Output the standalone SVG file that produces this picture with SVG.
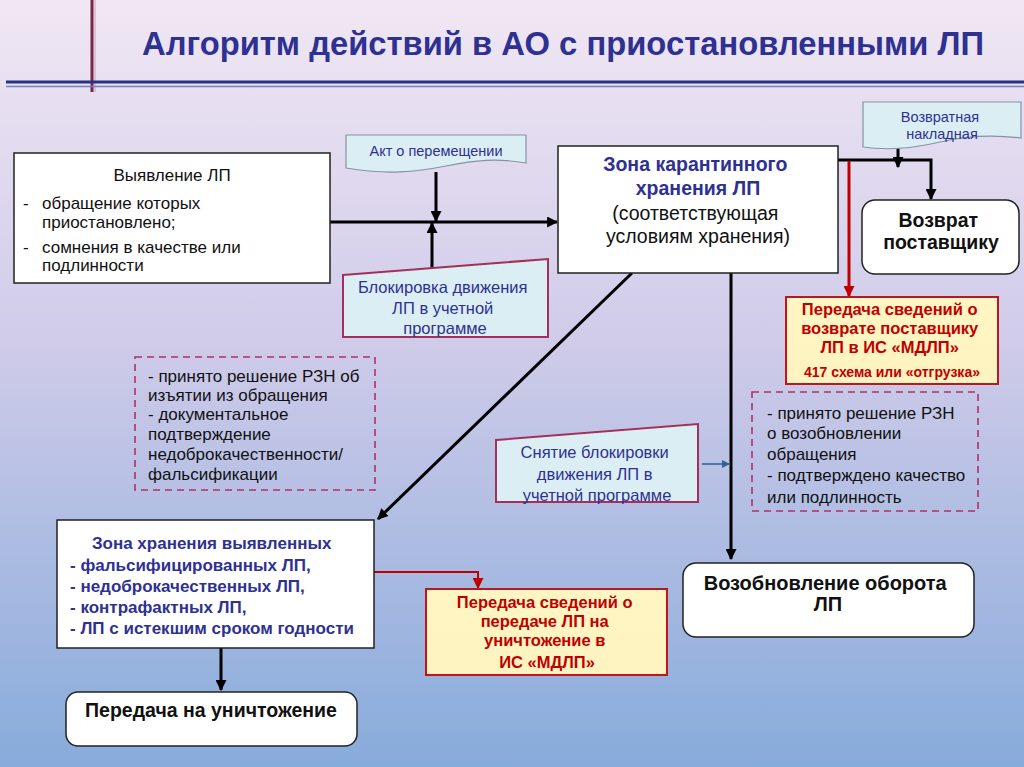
<svg xmlns="http://www.w3.org/2000/svg" width="1024" height="767" viewBox="0 0 1024 767">
<defs>
<linearGradient id="bg" x1="0" y1="0" x2="0" y2="1">
<stop offset="0" stop-color="#f1e7f4"/>
<stop offset="0.45" stop-color="#cfcbe9"/>
<stop offset="1" stop-color="#87abdb"/>
</linearGradient>
<linearGradient id="yel" x1="0" y1="0" x2="0" y2="1">
<stop offset="0" stop-color="#fff6c4"/>
<stop offset="1" stop-color="#fdf3c0"/>
</linearGradient>
<marker id="ab" viewBox="0 0 10 10" refX="9" refY="5" markerWidth="11" markerHeight="11" markerUnits="userSpaceOnUse" orient="auto"><path d="M0,0 L10,5 L0,10 z" fill="#000"/></marker>
<marker id="ar" viewBox="0 0 10 10" refX="9" refY="5" markerWidth="11" markerHeight="11" markerUnits="userSpaceOnUse" orient="auto"><path d="M0,0 L10,5 L0,10 z" fill="#c00000"/></marker>
<marker id="abl" viewBox="0 0 10 10" refX="9" refY="5" markerWidth="8" markerHeight="8" markerUnits="userSpaceOnUse" orient="auto"><path d="M0,0 L10,5 L0,10 z" fill="#2f6491"/></marker>
</defs>
<style>
.t{font-family:"Liberation Sans",Arial,sans-serif}
.b{font-weight:bold}
.box{fill:#fff;stroke:#222;stroke-width:1.5}
.doc{fill:#dbeef4;stroke:#8593a3;stroke-width:1.2}
.man{fill:#dbeef4;stroke:#a3305c;stroke-width:2}
.dash{fill:none;stroke:#b0306a;stroke-width:1.6;stroke-dasharray:7 5}
.red{fill:url(#yel);stroke:#c0141e;stroke-width:2}
.blk{fill:none;stroke:#000;stroke-width:3}
.rl{fill:none;stroke:#c00000;stroke-width:3}
.navy{fill:#2e3192}
.dr{fill:#c00000}
</style>
<rect x="0" y="0" width="1024" height="767" fill="url(#bg)"/>
<g id="header">
<line x1="92" y1="0" x2="92" y2="92" stroke="#7a2745" stroke-width="3"/>
<line x1="95" y1="0" x2="95" y2="92" stroke="#c9a3b8" stroke-width="1"/>
<line x1="6" y1="82" x2="1024" y2="82" stroke="#27328a" stroke-width="3"/>
<line x1="6" y1="86.5" x2="1024" y2="86.5" stroke="#6f80c4" stroke-width="1.5"/>
<text class="t b" x="142" y="55" font-size="33" fill="#2e3192" textLength="842" lengthAdjust="spacingAndGlyphs">Алгоритм действий в АО с приостановленными ЛП</text>
</g>
<g id="connectors">
<path class="blk" d="M330,222 H557" marker-end="url(#ab)"/>
<path class="blk" d="M436,172 V221" marker-end="url(#ab)"/>
<path class="blk" d="M432,268 V223" marker-end="url(#ab)"/>
<path class="blk" d="M838,160 H931 V199" marker-end="url(#ab)"/>
<path class="blk" d="M898,148 V167" marker-end="url(#ab)"/>
<path class="rl" d="M849,161 V296" marker-end="url(#ar)"/>
<path class="blk" d="M731,273 V559" marker-end="url(#ab)"/>
<path class="blk" d="M632,273 L378,519" marker-end="url(#ab)"/>
<path fill="none" stroke="#2f6491" stroke-width="1.6" d="M702,464 H729" marker-end="url(#abl)"/>
<path fill="none" stroke="#c00000" stroke-width="2" d="M374,572 H478 V588" marker-end="url(#ar)"/>
<path class="blk" d="M221,648 V690" marker-end="url(#ab)"/>
</g>
<g id="n-vyyavlenie">
<rect class="box" x="14" y="153" width="316" height="130"/>
<text class="t" x="172" y="181" font-size="17" fill="#111" text-anchor="middle">Выявление ЛП</text>
<text class="t" font-size="17" fill="#111">
<tspan x="23" y="209">-</tspan><tspan x="42" y="209">обращение которых</tspan>
<tspan x="42" y="228">приостановлено;</tspan>
<tspan x="23" y="253">-</tspan><tspan x="42" y="253">сомнения в качестве или</tspan>
<tspan x="42" y="271">подлинности</tspan>
</text>
</g>
<g id="n-akt">
<path class="doc" d="M346,135 H526 V163 C496,158 476,160 446,166 C416,172 386,175 346,168 Z"/>
<text class="t navy" x="436" y="156" font-size="14.5" text-anchor="middle">Акт о перемещении</text>
</g>
<g id="n-blok">
<path class="man" d="M343,275 L548,259 L548,337 L343,337 Z"/>
<text class="t navy" font-size="16.5" text-anchor="middle">
<tspan x="445" y="293">Блокировка движения</tspan>
<tspan x="445" y="314">ЛП в учетной</tspan>
<tspan x="445" y="334">программе</tspan>
</text>
</g>
<g id="n-karantin">
<rect class="box" x="558" y="146" width="280" height="127"/>
<text class="t b navy" font-size="19.5" text-anchor="middle">
<tspan x="698" y="171">Зона карантинного</tspan>
<tspan x="698" y="195">хранения ЛП</tspan>
</text>
<text class="t" font-size="19.5" fill="#111" text-anchor="middle">
<tspan x="698" y="220">(соответствующая</tspan>
<tspan x="698" y="243">условиям хранения)</tspan>
</text>
</g>
<g id="n-nakladnaya">
<path class="doc" d="M863,102 H1021 V138 C990,134 965,136 940,142 C915,148 890,151 863,147 Z"/>
<text class="t navy" font-size="14.5" text-anchor="middle">
<tspan x="942" y="122">Возвратная</tspan>
<tspan x="942" y="139">накладная</tspan>
</text>
</g>
<g id="n-vozvrat">
<rect class="box" x="862" y="200" width="157" height="74" rx="13"/>
<text class="t b" font-size="19.5" fill="#111" text-anchor="middle">
<tspan x="941" y="227">Возврат</tspan>
<tspan x="941" y="249">поставщику</tspan>
</text>
</g>
<g id="n-mdlp-vozvrat">
<rect class="red" x="786" y="297" width="212" height="87"/>
<text class="t b dr" font-size="16.5" text-anchor="middle">
<tspan x="892" y="315">Передача сведений о</tspan>
<tspan x="892" y="334">возврате поставщику</tspan>
<tspan x="892" y="353">ЛП в ИС «МДЛП»</tspan>
<tspan x="892" y="377" font-size="14">417 схема или «отгрузка»</tspan>
</text>
</g>
<g id="n-usl-izyatie">
<rect class="dash" x="135" y="357" width="240" height="133"/>
<text class="t" font-size="17" fill="#111">
<tspan x="148" y="382">- принято решение РЗН об</tspan>
<tspan x="148" y="401">изъятии из обращения</tspan>
<tspan x="148" y="420">- документальное</tspan>
<tspan x="148" y="440">подтверждение</tspan>
<tspan x="148" y="460">недоброкачественности/</tspan>
<tspan x="148" y="480">фальсификации</tspan>
</text>
</g>
<g id="n-snyatie">
<path class="man" d="M496,440 L698,424 L698,502 L496,502 Z"/>
<text class="t navy" font-size="16.5" text-anchor="middle">
<tspan x="597" y="458">Снятие блокировки</tspan>
<tspan x="597" y="480">движения ЛП в</tspan>
<tspan x="597" y="501">учетной программе</tspan>
</text>
</g>
<g id="n-usl-vozobn">
<rect class="dash" x="752" y="392" width="226" height="119"/>
<text class="t" font-size="17" fill="#111">
<tspan x="767" y="419">- принято решение РЗН</tspan>
<tspan x="767" y="439">о возобновлении</tspan>
<tspan x="767" y="460">обращения</tspan>
<tspan x="767" y="481">- подтверждено качество</tspan>
<tspan x="767" y="503">или подлинность</tspan>
</text>
</g>
<g id="n-zona-vyyavl">
<rect class="box" x="57" y="520" width="317" height="128"/>
<text class="t b navy" font-size="17">
<tspan x="214" y="549" text-anchor="middle">Зона хранения выявленных</tspan>
<tspan x="70" y="571">- фальсифицированных ЛП,</tspan>
<tspan x="70" y="592">- недоброкачественных ЛП,</tspan>
<tspan x="70" y="613">- контрафактных ЛП,</tspan>
<tspan x="70" y="634">- ЛП с истекшим сроком годности</tspan>
</text>
</g>
<g id="n-mdlp-unichtozh">
<rect class="red" x="426" y="589" width="241" height="86"/>
<text class="t b dr" font-size="16.5" text-anchor="middle">
<tspan x="547" y="608">Передача сведений о</tspan>
<tspan x="547" y="627">передаче ЛП на</tspan>
<tspan x="547" y="646">уничтожение в</tspan>
<tspan x="547" y="668">ИС «МДЛП»</tspan>
</text>
</g>
<g id="n-vozobnovlenie">
<rect class="box" x="683" y="563" width="291" height="74" rx="13"/>
<text class="t b" font-size="20" fill="#111" text-anchor="middle">
<tspan x="828" y="590">Возобновление оборота</tspan>
<tspan x="828" y="611">ЛП</tspan>
</text>
</g>
<g id="n-unichtozh">
<rect class="box" x="66" y="692" width="291" height="54" rx="12"/>
<text class="t b" font-size="19.5" fill="#111" x="211" y="717" text-anchor="middle">Передача на уничтожение</text>
</g>
</svg>
